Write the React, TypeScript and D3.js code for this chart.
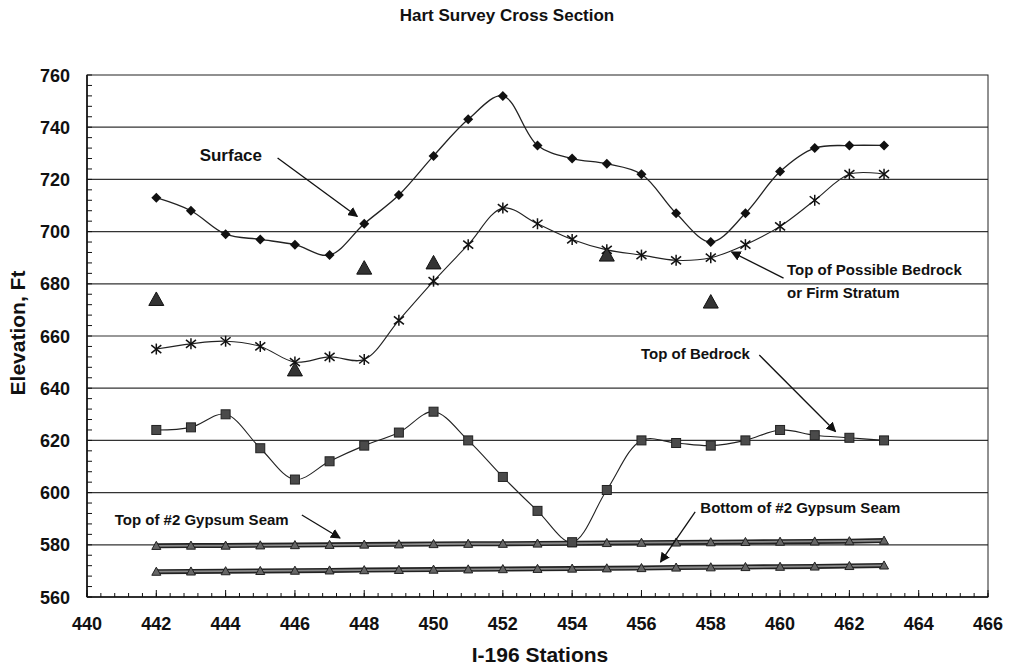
import React from "react";
import * as d3 from "d3";

// stations along I-196
const stations = [442, 443, 444, 445, 446, 447, 448, 449, 450, 451, 452, 453, 454, 455, 456, 457, 458, 459, 460, 461, 462, 463];
const surface = [713, 708, 699, 697, 695, 691, 703, 714, 729, 743, 752, 733, 728, 726, 722, 707, 696, 707, 723, 732, 733, 733];
const possibleBedrock = [655, 657, 658, 656, 650, 652, 651, 666, 681, 695, 709, 703, 697, 693, 691, 689, 690, 695, 702, 712, 722, 722];
const bedrock = [624, 625, 630, 617, 605, 612, 618, 623, 631, 620, 606, 593, 581, 601, 620, 619, 618, 620, 624, 622, 621, 620];
const gypsumTop = [579.6, 579.7, 579.7, 579.8, 579.9, 580, 580.1, 580.2, 580.3, 580.4, 580.4, 580.5, 580.6, 580.7, 580.8, 580.9, 581, 581.1, 581.2, 581.3, 581.4, 581.6];
const gypsumBottom = [569.7, 569.8, 569.9, 570, 570.1, 570.2, 570.3, 570.4, 570.5, 570.6, 570.7, 570.8, 570.9, 571, 571.1, 571.3, 571.4, 571.5, 571.6, 571.7, 571.9, 572.1];

// isolated borehole points (triangles)
const holeStations = [442, 446, 448, 450, 455, 458];
const holeValues = [674, 647, 686, 688, 691, 673];

const xTicks = [440, 442, 444, 446, 448, 450, 452, 454, 456, 458, 460, 462, 464, 466];
const yTicks = [560, 580, 600, 620, 640, 660, 680, 700, 720, 740, 760];

// annotations, positions in data units: text at (tx, ty), arrow from (fx, fy) to (ax, ay)
const notes = [
  { lines: ["Surface"], anchor: "start", tx: 443.25, ty: 729.3, size: 17, fx: 445.5, fy: 728.2, ax: 447.8, ay: 705.8 },
  { lines: ["Top of Possible Bedrock", "or Firm Stratum"], anchor: "start", tx: 460.2, ty: 685.3, size: 15, fx: 460.1, fy: 682.2, ax: 458.6, ay: 692.2 },
  { lines: ["Top of Bedrock"], anchor: "end", tx: 459.13, ty: 653.1, size: 15, fx: 459.4, fy: 652.7, ax: 461.6, ay: 623.4 },
  { lines: ["Top of #2 Gypsum Seam"], anchor: "start", tx: 440.8, ty: 589.5, size: 15, fx: 446.2, fy: 591.4, ax: 447.3, ay: 582.6 },
  { lines: ["Bottom of #2 Gypsum Seam"], anchor: "start", tx: 457.7, ty: 594.1, size: 15, fx: 457.55, fy: 592.6, ax: 456.55, ay: 573.4 },
];

const W = 1011;
const H = 669;
const left = 87;
const right = 988;
const top = 75;
const bottom = 597;

export default function App() {
  const x = d3.scaleLinear().domain([440, 466]).range([left, right]);
  const y = d3.scaleLinear().domain([560, 760]).range([bottom, top]);

  const smooth = d3
    .line<number>()
    .x((_, i) => x(stations[i]))
    .y((d) => y(d))
    .curve(d3.curveCatmullRom.alpha(0.5));
  const straight = d3
    .line<number>()
    .x((_, i) => x(stations[i]))
    .y((d) => y(d));

  const xMinor = d3.range(440, 466.001, 0.4);
  const yMinor = d3.range(560, 760.001, 4);
  const font = "Liberation Sans, Arial, sans-serif";

  const tri = (cx: number, cy: number, s: number) =>
    `M${cx},${cy - s} L${cx + s},${cy + s * 0.8} L${cx - s},${cy + s * 0.8} Z`;

  return (
    <svg width={W} height={H} style={{ position: "absolute", left: 0, top: 0, background: "#fff" }}>
      <defs>
        <marker id="ah" viewBox="0 0 10 10" refX="9" refY="5" markerWidth="10" markerHeight="10" orient="auto-start-reverse" markerUnits="userSpaceOnUse">
          <path d="M0,0 L10,5 L0,10 Z" fill="#111" />
        </marker>
      </defs>

      <text x={507} y={21} textAnchor="middle" fontFamily={font} fontWeight="bold" fontSize={17} fill="#111">
        Hart Survey Cross Section
      </text>

      {/* gridlines */}
      {yTicks.slice(1, -1).map((t) => (
        <line key={t} x1={left} x2={right} y1={y(t)} y2={y(t)} stroke="#333" strokeWidth={1.2} />
      ))}

      {/* frame */}
      <rect x={left} y={top} width={right - left} height={bottom - top} fill="none" stroke="#222" strokeWidth={1} />
      <line x1={left} x2={left} y1={top} y2={bottom} stroke="#111" strokeWidth={1.6} />
      <line x1={left} x2={right} y1={bottom} y2={bottom} stroke="#111" strokeWidth={1.6} />

      {/* ticks */}
      {yMinor.map((t) => (
        <line key={"ym" + t} x1={left} x2={left + 5} y1={y(t)} y2={y(t)} stroke="#111" />
      ))}
      {xMinor.map((t) => (
        <line key={"xm" + t} x1={x(t)} x2={x(t)} y1={bottom} y2={bottom - 4} stroke="#111" />
      ))}
      {xTicks.map((t) => (
        <line key={"xM" + t} x1={x(t)} x2={x(t)} y1={bottom} y2={bottom - 7} stroke="#111" />
      ))}

      {/* tick labels */}
      {yTicks.map((t) => (
        <text key={"yl" + t} x={70} y={y(t) + 6.5} textAnchor="end" fontFamily={font} fontWeight="bold" fontSize={18} fill="#111">
          {t}
        </text>
      ))}
      {xTicks.map((t) => (
        <text key={"xl" + t} x={x(t)} y={630} textAnchor="middle" fontFamily={font} fontWeight="bold" fontSize={18} fill="#111">
          {t}
        </text>
      ))}

      <text x={540} y={662} textAnchor="middle" fontFamily={font} fontWeight="bold" fontSize={21} fill="#111">
        I-196 Stations
      </text>
      <text transform="translate(25,333) rotate(-90)" textAnchor="middle" fontFamily={font} fontWeight="bold" fontSize={21} fill="#111">
        Elevation, Ft
      </text>

      {/* gypsum seams */}
      {[gypsumTop, gypsumBottom].map((s, k) => (
        <g key={"g" + k}>
          <path d={straight(s) || ""} fill="none" stroke="#222" strokeWidth={5} />
          <path d={straight(s) || ""} fill="none" stroke="#8a8a8a" strokeWidth={1.8} />
          {s.map((v, i) => (
            <path key={i} d={tri(x(stations[i]), y(v), 4.5)} fill="#666" stroke="#222" strokeWidth={1} />
          ))}
        </g>
      ))}

      {/* top of bedrock */}
      <path d={smooth(bedrock) || ""} fill="none" stroke="#222" strokeWidth={1.1} />
      {bedrock.map((v, i) => (
        <rect key={"b" + i} x={x(stations[i]) - 4.5} y={y(v) - 4.5} width={9} height={9} fill="#4a4a4a" stroke="#222" strokeWidth={1} />
      ))}

      {/* possible bedrock */}
      <path d={smooth(possibleBedrock) || ""} fill="none" stroke="#222" strokeWidth={1.1} />
      {possibleBedrock.map((v, i) => {
        const cx = x(stations[i]);
        const cy = y(v);
        return (
          <g key={"p" + i} stroke="#111" strokeWidth={1.5}>
            <line x1={cx} x2={cx} y1={cy - 5.5} y2={cy + 5.5} />
            <line x1={cx - 5} x2={cx + 5} y1={cy - 4} y2={cy + 4} />
            <line x1={cx - 5} x2={cx + 5} y1={cy + 4} y2={cy - 4} />
          </g>
        );
      })}

      {/* surface */}
      <path d={smooth(surface) || ""} fill="none" stroke="#222" strokeWidth={1.3} />
      {surface.map((v, i) => {
        const cx = x(stations[i]);
        const cy = y(v);
        return <path key={"s" + i} d={`M${cx},${cy - 5} L${cx + 5},${cy} L${cx},${cy + 5} L${cx - 5},${cy} Z`} fill="#111" />;
      })}

      {/* borehole points */}
      {holeStations.map((st, i) => (
        <path key={"h" + i} d={tri(x(st), y(holeValues[i]), 7.5)} fill="#333" stroke="#111" strokeWidth={1} />
      ))}

      {/* annotations */}
      {notes.map((n, i) => (
        <g key={"n" + i}>
          <text x={x(n.tx)} y={y(n.ty) + n.size * 0.36} textAnchor={n.anchor} fontFamily={font} fontWeight="bold" fontSize={n.size} fill="#111">
            {n.lines.map((l, j) => (
              <tspan key={j} x={x(n.tx)} dy={j === 0 ? 0 : 23}>
                {l}
              </tspan>
            ))}
          </text>
          <line x1={x(n.fx)} y1={y(n.fy)} x2={x(n.ax)} y2={y(n.ay)} stroke="#111" strokeWidth={1.3} markerEnd="url(#ah)" />
        </g>
      ))}
    </svg>
  );
}
